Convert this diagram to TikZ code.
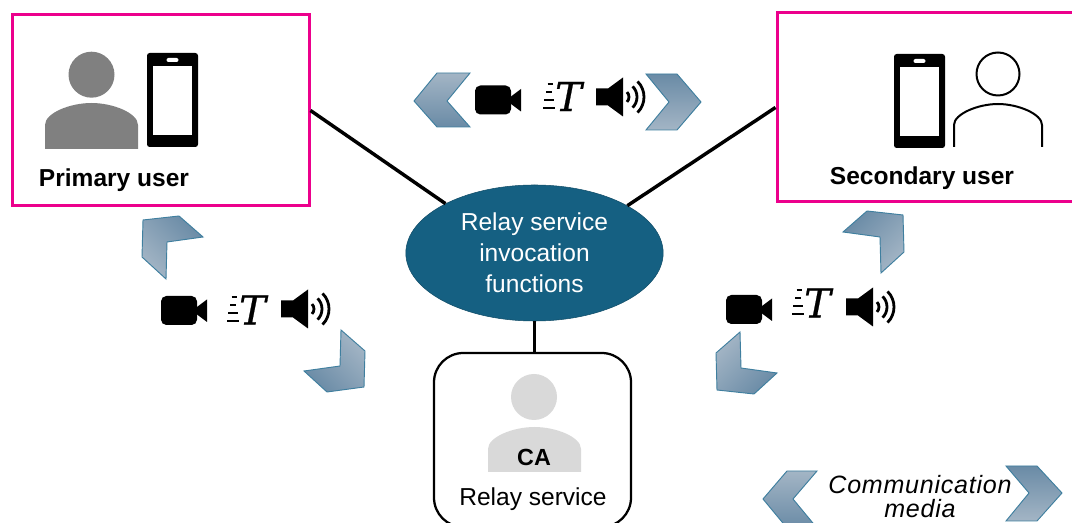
\documentclass[tikz,border=0pt]{standalone}
\usepackage{fontspec}
\setmainfont{Liberation Sans}
\newfontfamily\teefont[FakeBold=0.6]{DejaVu Serif}
\newfontfamily\legendfont[LetterSpace=3]{Liberation Sans}
\usetikzlibrary{shapes.geometric}

\definecolor{boxpink}{HTML}{EC008C}
\definecolor{relayblue}{HTML}{156082}
\definecolor{chevline}{HTML}{3F7F9F}
\definecolor{chevlight}{HTML}{A3B5C5}
\definecolor{chevdark}{HTML}{6A8BA6}

\tikzset{
    userbox/.style={rectangle, draw=boxpink, line width=2.25pt},
    link/.style={line width=2.6pt},
    boldlabel/.style={font=\bfseries\fontsize{18.4}{20}\selectfont},
    chev/.style={draw=chevline, line width=.7pt, top color=chevlight, bottom color=chevdark, shading angle=#1},
    phoneicon/.pic={
        \fill[rounded corners=2pt] (-25.5,-47) rectangle (25.5,47);
        \fill[white] (-19.5,-34) rectangle (19.5,35);
        \fill[white, rounded corners=1.5pt] (-6,-42) rectangle (6,-38);
    },
    cameraicon/.pic={
        \fill[rounded corners=4pt] (0,-14.5) rectangle (36,14.5);
        \fill (36,-3.5) -- (46,-11) -- (46,11.5) -- (36,4) -- cycle;
    },
    teeicon/.pic={
        \draw[line width=1.5pt] (4.7,-12.5) -- (10,-12.5) (3,-4.5) -- (9.3,-4.5) (1,3.5) -- (11,3.5) (0,11.5) -- (12,11.5);
        \node[font=\teefont\itshape\fontsize{30}{30}\selectfont, inner sep=0pt] (tee) at (25.5,0) {T};
    },
    speakericon/.pic={
        \fill (0,-8.5) -- (12,-8.5) -- (27,-19.5) -- (27,19.5) -- (12,8.5) -- (0,8.5) -- cycle;
        \draw[line width=2.1pt] (26,0) ++(-45:7) arc (-45:45:7);
        \draw[line width=2.1pt] (26,0) ++(-45:15) arc (-45:45:15);
        \draw[line width=2.1pt] (26,0) ++(-45:22) arc (-45:45:22);
    }
}

\begin{document}
\begin{tikzpicture}[x=0.75pt, y=-0.75pt]
    \useasboundingbox (0,0) rectangle (1072,523);
    \clip (0,0) rectangle (1072,523);

    \node[userbox, minimum width=222.75pt, minimum height=143.25pt] (primary) at (160.5,110.5) {};
    \node[userbox, minimum width=234.75pt, minimum height=141.75pt] (secondary) at (933.5,107.5) {};
    \node[ellipse, draw=relayblue!80!black, fill=relayblue, minimum width=193pt, minimum height=102pt, inner sep=0pt,
        text=white, align=center, font=\fontsize{18.4}{23.25}\selectfont] (invocation) at (534.5,253)
        {Relay service\\invocation\\functions};
    \node[draw, rectangle, rounded corners=22pt, line width=1.7pt, minimum width=147.75pt, minimum height=130.5pt] (relay) at (532.5,440) {};

    \draw[link] (primary.east) -- (invocation.151.7);
    \draw[link] (secondary.west) -- (invocation.27.8);
    \draw[link] (invocation.south) -- (invocation.south |- relay.north);

    % primary user
    \fill[black!50] (91.5,74.7) circle (23);
    \fill[black!50] (45,149) -- (45,125) .. controls (45,113) and (70,103) .. (91.5,103)
        .. controls (113,103) and (138,113) .. (138,125) -- (138,149) -- cycle;
    \pic at (172.5,100) {phoneicon};
    \node[boldlabel] (primarylabel) at (114,180) {Primary user};

    % secondary user
    \pic at (919.5,101) {phoneicon};
    \draw[line width=1.5pt] (998,74) circle (21.5);
    \draw[line width=1.5pt] (954,147) -- (954,125) .. controls (954,114) and (978,104) .. (998,104)
        .. controls (1018,104) and (1042,114) .. (1042,125) -- (1042,147);
    \node[boldlabel] (secondarylabel) at (922,178) {Secondary user};

    % relay service
    \fill[black!15] (534,397) circle (23);
    \fill[black!15] (488,472) -- (488,449) .. controls (488,437) and (513,427) .. (534.5,427)
        .. controls (556,427) and (581,437) .. (581,449) -- (581,472) -- cycle;
    \node[font=\bfseries\fontsize{17.5}{20}\selectfont, inner sep=0pt] (calabel) at (534,457.5) {CA};
    \node[font=\fontsize{18.4}{20}\selectfont] (relaylabel) at (533,499.5) {Relay service};

    % media between the users
    \draw[chev=0] (414,101) -- (437,73) -- (470,73) -- (447,101) -- (470,127) -- (437,127) -- cycle;
    \draw[chev=180] (646,74) -- (677,74) -- (701,102) -- (677,130) -- (646,130) -- (669,102) -- cycle;
    \pic at (475,100) {cameraicon};
    \pic at (543,96.5) {teeicon};
    \pic at (596,97) {speakericon};

    % media to the primary user
    \draw[chev=135] (143,220) -- (179,216) -- (203,237) -- (167,242) -- (166,279) -- (142,257) -- cycle;
    \draw[chev=-45] (341,330) -- (365,351) -- (364,387) -- (327,392) -- (304,371) -- (340,366) -- cycle;
    \pic at (161,310.5) {cameraicon};
    \pic at (227,310) {teeicon};
    \pic at (281,309) {speakericon};

    % media to the secondary user
    \draw[chev=225] (867,211) -- (903,215) -- (904,252) -- (881,273) -- (880,237) -- (843,232) -- cycle;
    \draw[chev=45] (740,332) -- (741,368) -- (777,373) -- (754,394) -- (717,390) -- (716,353) -- cycle;
    \pic at (726,309.5) {cameraicon};
    \pic at (792,303) {teeicon};
    \pic at (846,307) {speakericon};

    % legend
    \draw[chev=0] (763,499) -- (787,471) -- (817,471) -- (793,499) -- (817,528) -- (787,528) -- cycle;
    \draw[chev=180] (1006,466) -- (1037,466) -- (1062,493) -- (1037,521) -- (1006,521) -- (1029,493) -- cycle;
    \node[align=center, font=\legendfont\itshape\fontsize{18.8}{18.5}\selectfont, inner sep=0pt] (legendlabel) at (920,496.5) {Communication\\media};
\end{tikzpicture}
\end{document}
